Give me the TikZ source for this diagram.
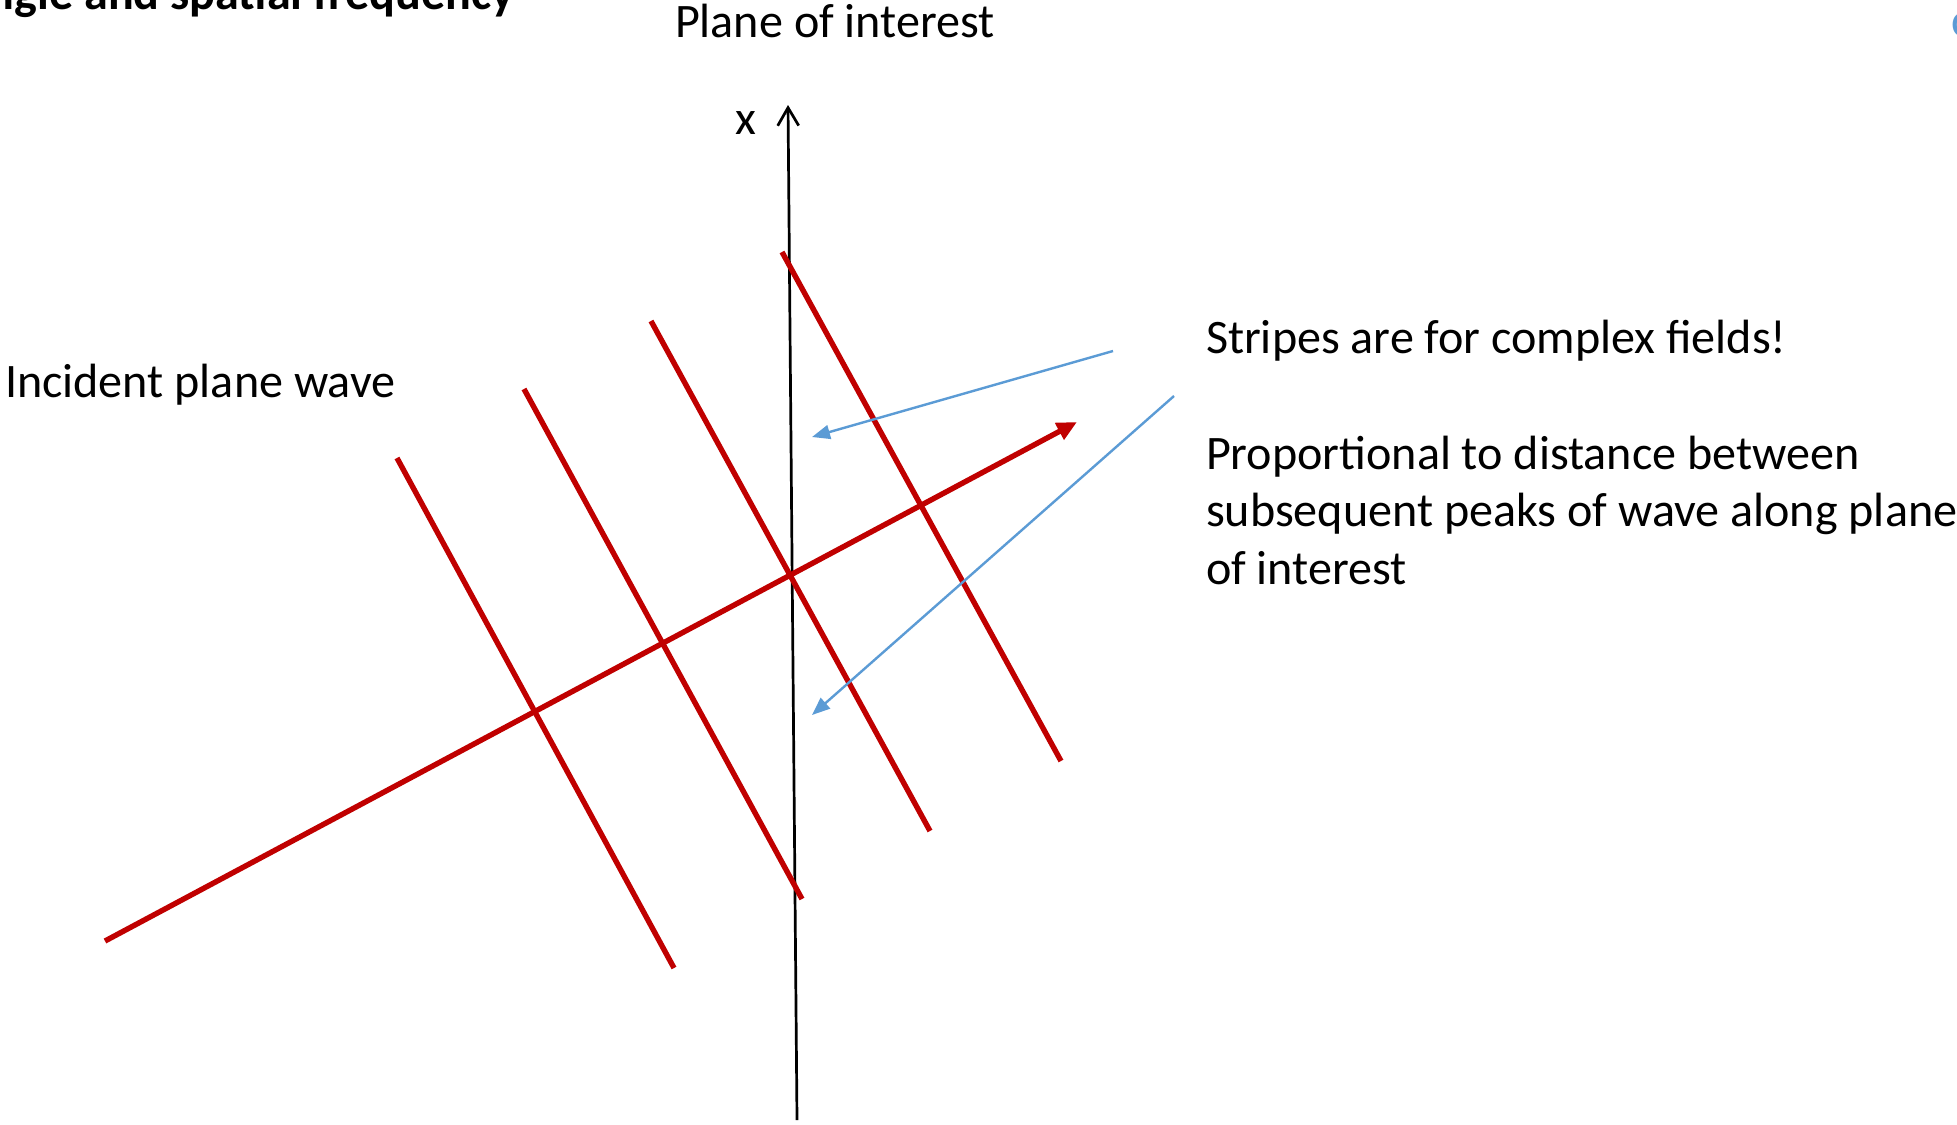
\documentclass[tikz,border=0pt]{standalone}
\usepackage{fontspec}
\setmainfont{Carlito}
\usetikzlibrary{arrows.meta}
\definecolor{wavered}{HTML}{C00000}
\definecolor{noteblue}{HTML}{5B9BD5}
\begin{document}
\begin{tikzpicture}[x=0.5pt,y=-0.5pt,
  txt/.style={inner sep=0pt, outer sep=0pt, font=\fontsize{24.05}{28.7}\selectfont, anchor=base west},
  wave/.style={wavered, line width=2.7pt},
  wavearrow/.style={wave, -{Triangle[length=10pt,width=9pt]}},
  note/.style={noteblue, line width=1.2pt, -{Triangle[length=9pt,width=7pt]}},
  axisline/.style={black, line width=1.35pt, -{Straight Barb[length=9pt,width=10.5pt]}}]
\useasboundingbox (0,0) rectangle (1957,1124);
\clip (0,0) rectangle (1957,1124);
\fill[white] (0,0) rectangle (1957,1124);

% clipped title and fragment
\node[txt, anchor=base east, font=\fontsize{24.05}{28.7}\selectfont\bfseries] (title) at (514,10) {Angle and spatial frequency};
\node[txt, text=noteblue] (frag) at (1951,36) {c};

% labels
\node[txt] (plane) at (675,37) {Plane of interest};
\node[txt] (xlab) at (735,134) {x};
\node[txt] (incident) at (5,397) {Incident plane wave};
\node[txt] (stripes) at (1206,353) {Stripes are for complex fields!};
\node[txt, align=left] (prop) at (1206,584) {Proportional to distance between\\subsequent peaks of wave along plane\\of interest};

% axis
\coordinate (axB) at (797,1120);
\coordinate (axT) at (788,105);
\draw[axisline] (axB) -- (axT);

% incident wave direction
\coordinate (kS) at (105,941);
\coordinate (kE) at (1077,422);
\draw[wavearrow] (kS) -- (kE);

% wavefronts
\coordinate (s1a) at (397,458);  \coordinate (s1b) at (674,968);
\coordinate (s2a) at (524,389);  \coordinate (s2b) at (802,899);
\coordinate (s3a) at (651,321);  \coordinate (s3b) at (930,831);
\coordinate (s4a) at (782,252);  \coordinate (s4b) at (1061,761);
\draw[wave] (s1a) -- (s1b);
\draw[wave] (s2a) -- (s2b);
\draw[wave] (s3a) -- (s3b);
\draw[wave] (s4a) -- (s4b);

% callout arrows
\coordinate (n1s) at (1113,351); \coordinate (n1e) at (812,437);
\coordinate (n2s) at (1174,396); \coordinate (n2e) at (812,715);
\draw[note] (n1s) -- (n1e);
\draw[note] (n2s) -- (n2e);
\end{tikzpicture}
\end{document}
